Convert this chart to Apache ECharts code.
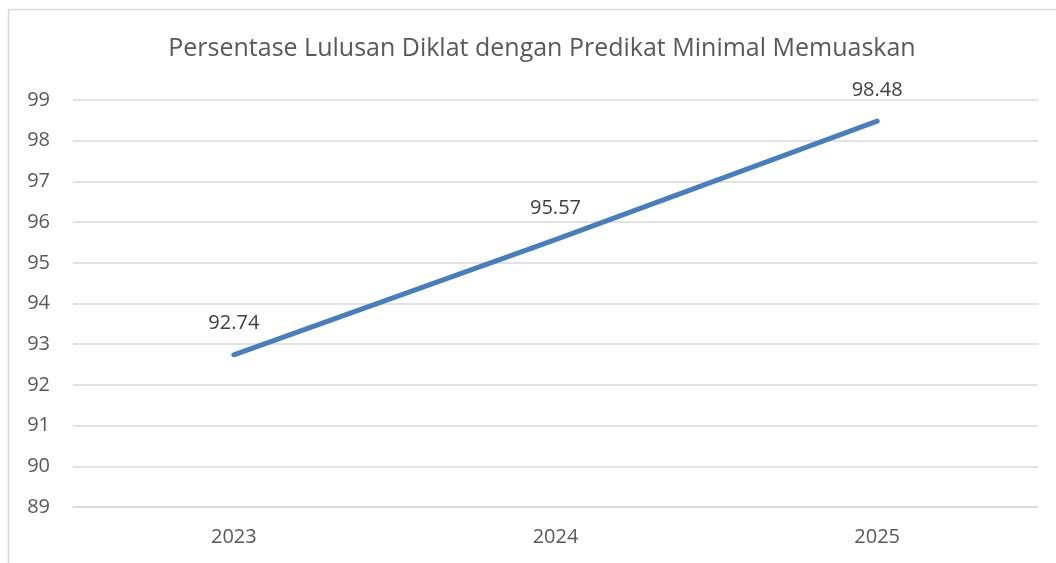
<!DOCTYPE html>
<html>
<head>
<meta charset="utf-8">
<script src="https://cdn.jsdelivr.net/npm/echarts@6/dist/echarts.min.js"></script>
<style>
  html, body { margin: 0; padding: 0; background: #fff; }
  #chart { width: 1056px; height: 563px; }
</style>
</head>
<body>
<div id="chart"></div>
<script>
// data
const years = ['2023', '2024', '2025'];
const persentase = [92.74, 95.57, 98.48];

const chart = echarts.init(document.getElementById('chart'), null, { renderer: 'canvas' });

const textColor = '#595959';
const gridColor = '#d9d9d9';
const font = '"Open Sans", "Noto Sans", sans-serif';

chart.setOption({
  animation: false,
  backgroundColor: '#fff',
  graphic: [{
    type: 'rect',
    shape: { x: 8.5, y: 9.5, width: 1100, height: 620 },
    style: { fill: 'none', stroke: gridColor, lineWidth: 1.5 },
    silent: true
  }],
  title: {
    text: 'Persentase Lulusan Diklat dengan Predikat Minimal Memuaskan',
    left: 537,
    top: 31,
    textAlign: 'center',
    textStyle: { fontFamily: font, fontSize: 25, fontWeight: 'normal', color: textColor }
  },
  grid: { left: 73, right: 18, top: 100, bottom: 56 },
  xAxis: {
    type: 'category',
    data: years,
    boundaryGap: true,
    axisLine: { lineStyle: { color: gridColor, width: 1.5 } },
    axisTick: { show: false },
    axisLabel: { color: textColor, fontFamily: font, fontSize: 20, margin: 20 }
  },
  yAxis: {
    type: 'value',
    min: 89,
    max: 99,
    interval: 1,
    axisLine: { show: false },
    axisTick: { show: false },
    axisLabel: { color: textColor, fontFamily: font, fontSize: 20, margin: 23 },
    splitLine: { lineStyle: { color: gridColor, width: 1.5 } }
  },
  series: [{
    type: 'line',
    data: persentase,
    showSymbol: true,
    symbol: 'circle',
    symbolSize: 2,
    itemStyle: { color: '#4a7ebb', borderWidth: 0 },
    lineStyle: { color: '#4a7ebb', width: 5, cap: 'round' },
    label: {
      show: true,
      position: 'top',
      distance: 20,
      color: '#404040',
      fontFamily: font,
      fontSize: 20,
      formatter: p => p.value.toFixed(2)
    }
  }]
});
</script>
</body>
</html>
